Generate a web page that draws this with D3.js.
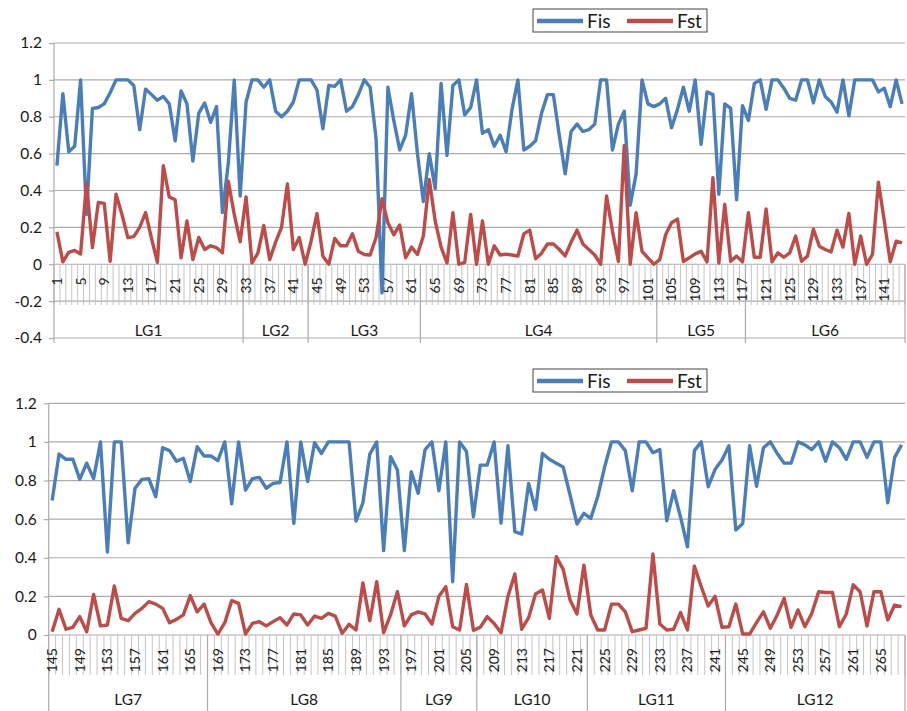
<!DOCTYPE html>
<html>
<head>
<meta charset="utf-8">
<script src="https://cdn.jsdelivr.net/npm/d3@7"></script>
<style>
  body { margin: 0; background: #fff; }
  text { font-family: Lato, "Open Sans", sans-serif; fill: #1a1a1a; }
</style>
</head>
<body>
<div id="container"></div>
<script>
/* DATA */
const markersTop = d3.range(1, 145);
const markersBottom = d3.range(145, 269);

const groupNames = ["LG1", "LG2", "LG3", "LG4", "LG5", "LG6", "LG7", "LG8", "LG9", "LG10", "LG11", "LG12"];
const groupEnds = [32, 43, 62, 102, 117, 144, 167, 195, 206, 222, 242, 268];

const fisTop = [
  0.535, 0.925, 0.61, 0.64, 1.0, 0.27, 0.845, 0.85, 0.87, 0.93,
  1.0, 1.0, 1.0, 0.97, 0.73, 0.95, 0.92, 0.89, 0.91, 0.87,
  0.67, 0.94, 0.87, 0.56, 0.82, 0.875, 0.77, 0.855, 0.28, 0.55,
  1.0, 0.37, 0.88, 1.0, 1.0, 0.96, 1.0, 0.83, 0.80, 0.83,
  0.88, 1.0, 1.0, 1.0, 0.945, 0.735, 0.97, 0.965, 1.0, 0.83,
  0.855, 0.92, 1.0, 0.96, 0.68, -0.155, 0.96, 0.78, 0.62, 0.70,
  0.925, 0.6, 0.34, 0.6, 0.41, 0.98, 0.59, 0.97, 1.0, 0.81,
  0.85, 1.0, 0.71, 0.73, 0.64, 0.70, 0.61, 0.84, 1.0, 0.62,
  0.64, 0.67, 0.82, 0.92, 0.92, 0.70, 0.49, 0.72, 0.76, 0.72,
  0.73, 0.76, 1.0, 1.0, 0.62, 0.76, 0.83, 0.32, 0.49, 1.0,
  0.87, 0.855, 0.87, 0.90, 0.74, 0.84, 0.96, 0.83, 1.0, 0.65,
  0.935, 0.92, 0.38, 0.87, 0.845, 0.35, 0.86, 0.78, 0.98, 1.0,
  0.84, 1.0, 1.0, 0.955, 0.9, 0.89, 1.0, 1.0, 0.875, 1.0,
  0.91, 0.88, 0.825, 1.0, 0.805, 1.0, 1.0, 1.0, 1.0, 0.935,
  0.955, 0.855, 1.0, 0.87
];

const fstTop = [
  0.176, 0.013, 0.065, 0.075, 0.056, 0.44, 0.09, 0.335, 0.33, 0.016,
  0.38, 0.27, 0.144, 0.15, 0.2, 0.28, 0.14, 0.01, 0.535, 0.365,
  0.35, 0.035, 0.235, 0.025, 0.145, 0.08, 0.1, 0.09, 0.062, 0.45,
  0.27, 0.122, 0.365, 0.008, 0.06, 0.21, 0.025, 0.12, 0.2, 0.435,
  0.08, 0.145, 0.0, 0.125, 0.275, 0.044, 0.0, 0.14, 0.1, 0.1,
  0.165, 0.07, 0.053, 0.05, 0.145, 0.355, 0.225, 0.16, 0.213, 0.035,
  0.093, 0.053, 0.153, 0.46, 0.235, 0.093, 0.007, 0.28, 0.0, 0.01,
  0.27, 0.0, 0.235, 0.0, 0.1, 0.05, 0.055, 0.05, 0.045, 0.165,
  0.185, 0.03, 0.06, 0.11, 0.11, 0.08, 0.045, 0.12, 0.185, 0.11,
  0.08, 0.05, 0.0, 0.37, 0.18, 0.015, 0.645, 0.0, 0.28, 0.07,
  0.035, 0.0, 0.025, 0.16, 0.225, 0.245, 0.015, 0.035, 0.056, 0.07,
  0.013, 0.47, 0.007, 0.325, 0.016, 0.044, 0.013, 0.28, 0.038, 0.038,
  0.3, 0.013, 0.062, 0.038, 0.062, 0.153, 0.016, 0.044, 0.19, 0.098,
  0.08, 0.067, 0.185, 0.093, 0.275, 0.0, 0.153, 0.0, 0.053, 0.445,
  0.235, 0.013, 0.125, 0.116
];

const fisBottom = [
  0.696, 0.937, 0.91, 0.91, 0.806, 0.89, 0.81, 1.0, 0.43, 1.0,
  1.0, 0.478, 0.76, 0.806, 0.81, 0.716, 0.97, 0.955, 0.90, 0.915,
  0.795, 0.975, 0.927, 0.927, 0.903, 1.0, 0.68, 1.0, 0.75, 0.81,
  0.816, 0.76, 0.785, 0.79, 1.0, 0.578, 1.0, 0.795, 0.996, 0.94,
  1.0, 1.0, 1.0, 1.0, 0.59, 0.685, 0.937, 1.0, 0.437, 0.924,
  0.855, 0.437, 0.846, 0.734, 0.96, 1.0, 0.747, 1.0, 0.276, 1.0,
  0.95, 0.612, 0.88, 0.88, 1.0, 0.58, 0.98, 0.535, 0.523, 0.785,
  0.65, 0.94, 0.91, 0.89, 0.87, 0.725, 0.575, 0.63, 0.604, 0.716,
  0.87, 1.0, 1.0, 0.955, 0.747, 1.0, 1.0, 0.944, 0.96, 0.592,
  0.747, 0.61, 0.457, 0.955, 1.0, 0.768, 0.858, 0.906, 0.98, 0.544,
  0.578, 0.98, 0.77, 0.97, 1.0, 0.94, 0.89, 0.89, 1.0, 0.985,
  0.96, 1.0, 0.90, 1.0, 0.97, 0.91, 1.0, 1.0, 0.92, 1.0,
  1.0, 0.685, 0.92, 0.985
];

const fstBottom = [
  0.017, 0.133, 0.03, 0.04, 0.095, 0.017, 0.21, 0.047, 0.052, 0.254,
  0.086, 0.074, 0.112, 0.138, 0.173, 0.16, 0.138, 0.064, 0.081, 0.104,
  0.204, 0.12, 0.16, 0.064, 0.005, 0.064, 0.178, 0.164, 0.005, 0.06,
  0.069, 0.047, 0.069, 0.09, 0.052, 0.109, 0.104, 0.052, 0.098, 0.086,
  0.112, 0.098, 0.009, 0.055, 0.026, 0.27, 0.074, 0.276, 0.012, 0.104,
  0.224, 0.047, 0.104, 0.12, 0.109, 0.057, 0.2, 0.25, 0.043, 0.026,
  0.262, 0.024, 0.04, 0.095, 0.06, 0.012, 0.2, 0.316, 0.03, 0.09,
  0.212, 0.233, 0.086, 0.406, 0.34, 0.181, 0.109, 0.362, 0.104, 0.026,
  0.026, 0.16, 0.16, 0.12, 0.017, 0.026, 0.035, 0.42, 0.057, 0.026,
  0.03, 0.116, 0.026, 0.357, 0.25, 0.15, 0.2, 0.04, 0.043, 0.16,
  0.005, 0.005, 0.064, 0.12, 0.035, 0.104, 0.19, 0.04, 0.13, 0.043,
  0.112, 0.224, 0.22, 0.22, 0.043, 0.109, 0.26, 0.224, 0.047, 0.224,
  0.224, 0.078, 0.155, 0.147
];

const yTicksTop = [-0.4, -0.2, 0, 0.2, 0.4, 0.6, 0.8, 1, 1.2];
const yTicksBottom = [0, 0.2, 0.4, 0.6, 0.8, 1, 1.2];

/* CONSTANTS */
const width = 907, height = 711;
const right = 905;
const fisColor = "#4a7ebb", fstColor = "#be4b48";
const gridColor = "#ababab", tickColor = "#c4c4c4";

const panels = [
  { markers: markersTop, fis: fisTop, fst: fstTop, left: 54, top: 43, bottom: 338, yMin: -0.4,
    yTicks: yTicksTop, legendY: 9, tickBottom: 305, sepBottom: 343, groupLabelY: 336 },
  { markers: markersBottom, fis: fisBottom, fst: fstBottom, left: 48.7, top: 403.3, bottom: 635, yMin: 0,
    yTicks: yTicksBottom, legendY: 369, tickBottom: 675, sepBottom: 711, groupLabelY: 705 }
];

const svg = d3.select("#container")
  .append("svg")
  .attr("width", width)
  .attr("height", height);

panels.forEach(p => {
  const g = svg.append("g");

  const xScale = d3.scaleBand()
    .domain(p.markers)
    .range([p.left, right])
    .padding(0);
  const bw = xScale.bandwidth();

  const yScale = d3.scaleLinear()
    .domain([p.yMin, 1.2])
    .range([p.bottom, p.top]);
  const y0 = yScale(0);

  // gridlines
  g.selectAll("line.grid")
    .data(p.yTicks)
    .join("line")
    .attr("class", "grid")
    .attr("x1", p.left).attr("x2", right)
    .attr("y1", d => yScale(d)).attr("y2", d => yScale(d))
    .attr("stroke", gridColor)
    .attr("stroke-width", 1.2);

  // category tick lines
  const edges = p.markers.map(m => xScale(m)).concat([right]);
  g.selectAll("line.cat")
    .data(edges)
    .join("line")
    .attr("class", "cat")
    .attr("x1", d => d).attr("x2", d => d)
    .attr("y1", y0).attr("y2", p.tickBottom)
    .attr("stroke", tickColor)
    .attr("stroke-width", 1);

  // groups of markers
  const groups = groupNames.map((name, i) => ({
    name,
    start: i === 0 ? 1 : groupEnds[i - 1] + 1,
    end: groupEnds[i]
  })).filter(d => d.end >= p.markers[0] && d.end <= p.markers[p.markers.length - 1]);

  g.selectAll("line.sep")
    .data(groups)
    .join("line")
    .attr("class", "sep")
    .attr("x1", d => xScale(d.end) + bw).attr("x2", d => xScale(d.end) + bw)
    .attr("y1", y0).attr("y2", p.sepBottom)
    .attr("stroke", gridColor)
    .attr("stroke-width", 1.2);

  g.selectAll("text.group")
    .data(groups)
    .join("text")
    .attr("class", "group")
    .attr("x", d => (xScale(d.start) + xScale(d.end) + bw) / 2)
    .attr("y", p.groupLabelY)
    .attr("text-anchor", "middle")
    .style("font-size", "15.5px")
    .text(d => d.name);

  // y axis
  const yAxis = g.append("g")
    .attr("transform", `translate(${p.left},0)`)
    .call(d3.axisLeft(yScale)
      .tickValues(p.yTicks)
      .tickSize(5)
      .tickPadding(7)
      .tickFormat(d => String(+d.toFixed(1))));
  yAxis.select(".domain").remove();
  yAxis.selectAll(".tick line").attr("stroke", gridColor).attr("stroke-width", 1.2);
  yAxis.selectAll(".tick text").style("font-size", "15.5px").attr("fill", "#1a1a1a");
  g.append("line")
    .attr("x1", p.left).attr("x2", p.left)
    .attr("y1", p.top).attr("y2", p.sepBottom)
    .attr("stroke", gridColor)
    .attr("stroke-width", 1.2);

  // x axis labels (every 4th marker, rotated)
  const xAxis = g.append("g")
    .attr("transform", `translate(0,${y0})`)
    .call(d3.axisBottom(xScale)
      .tickValues(p.markers.filter((d, i) => i % 4 === 0))
      .tickSize(0));
  xAxis.select(".domain").remove();
  xAxis.selectAll(".tick text")
    .attr("transform", "rotate(-90)")
    .attr("x", -13)
    .attr("y", 0)
    .attr("dy", "0.35em")
    .attr("text-anchor", "end")
    .attr("fill", "#1a1a1a")
    .style("font-size", "14px");

  // series lines
  const line = d3.line()
    .x(d => xScale(d.m) + bw / 2)
    .y(d => yScale(d.v));

  [["fis", fisColor], ["fst", fstColor]].forEach(([key, color]) => {
    const pts = p.markers.map((m, i) => ({ m, v: p[key][i] }));
    g.append("path")
      .datum(pts)
      .attr("d", line)
      .attr("fill", "none")
      .attr("stroke", color)
      .attr("stroke-width", 3.4)
      .attr("stroke-linejoin", "round");
  });

  // legend
  const lg = g.append("g").attr("transform", `translate(533,${p.legendY})`);
  lg.append("rect")
    .attr("width", 174).attr("height", 23)
    .attr("fill", "#fff")
    .attr("stroke", "#444")
    .attr("stroke-width", 1);
  const items = [["Fis", fisColor, 4], ["Fst", fstColor, 94]];
  items.forEach(([name, color, x]) => {
    lg.append("line")
      .attr("x1", x).attr("x2", x + 46)
      .attr("y1", 12).attr("y2", 12)
      .attr("stroke", color)
      .attr("stroke-width", 4.5);
    lg.append("text")
      .attr("x", x + 50)
      .attr("y", 19)
      .style("font-size", "19px")
      .text(name);
  });
});
</script>
</body>
</html>
